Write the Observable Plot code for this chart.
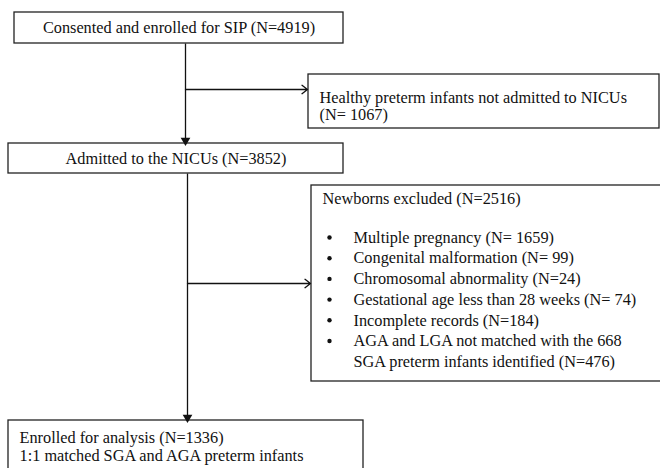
<!DOCTYPE html>
<html>
<head>
<meta charset="utf-8">
<script src="https://cdn.jsdelivr.net/npm/d3@7"></script>
<script src="https://cdn.jsdelivr.net/npm/@observablehq/plot@0.6"></script>
<style>
  html, body { margin: 0; padding: 0; background: #fff; }
  #chart svg { display: block; }
</style>
</head>
<body>
<div id="chart"></div>
<script>
// ---- content (data) ----
const stepLabels = [
  "Consented and enrolled for SIP (N=4919)",
  "Admitted to the NICUs (N=3852)"
];
const healthyLines = ["Healthy preterm infants not admitted to NICUs", "(N= 1067)"];
const excludedTitle = "Newborns excluded (N=2516)";
const excludedItems = [
  "Multiple pregnancy (N= 1659)",
  "Congenital malformation (N= 99)",
  "Chromosomal abnormality (N=24)",
  "Gestational age less than 28 weeks (N= 74)",
  "Incomplete records (N=184)",
  "AGA and LGA not matched with the 668",
  "SGA preterm infants identified (N=476)"
];
const itemHasBullet = [true, true, true, true, true, true, false];
const finalLines = ["Enrolled for analysis (N=1336)", "1:1 matched SGA and AGA preterm infants"];

// ---- layout (positions in page pixel units) ----
const boxes = [
  {x1: 14, x2: 343, y1: 12, y2: 43},
  {x1: 8, x2: 343, y1: 143, y2: 173},
  {x1: 308, x2: 659, y1: 74, y2: 128},
  {x1: 311, x2: 672, y1: 185, y2: 381},
  {x1: 8, x2: 363, y1: 420, y2: 480}
];
const vLines = [
  {x: 185, y1: 43, y2: 139},
  {x: 187, y1: 173, y2: 416}
];
const downHeads = [{x: 185, y: 140}, {x: 187, y: 417}];
const hArrows = [
  {x1: 185, x2: 307, y: 89},
  {x1: 187, x2: 310, y: 283}
];

const W = 660, H = 468;
const font = "'Liberation Serif', 'Times New Roman', serif";
const fs = 16.3;

const stepText = stepLabels.map((t, i) => ({
  t, x: (boxes[i].x1 + boxes[i].x2) / 2, y: (boxes[i].y1 + boxes[i].y2) / 2
}));
const leftText = [
  ...healthyLines.map((t, i) => ({t, x: 319, y: 97 + i * 17.5})),
  {t: excludedTitle, x: 322, y: 198},
  ...excludedItems.map((t, i) => ({t, x: 353, y: 237 + i * 20.7})),
  ...finalLines.map((t, i) => ({t, x: 19, y: 437 + i * 18.5}))
];
const bullets = excludedItems
  .map((t, i) => ({x: 329, y: 237 + i * 20.7, b: itemHasBullet[i]}))
  .filter(d => d.b);

const chart = Plot.plot({
  width: W,
  height: H,
  margin: 0,
  x: {domain: [0, W], axis: null},
  y: {domain: [0, H], reverse: true, axis: null},
  style: {fontFamily: font, background: "#fff"},
  marks: [
    Plot.rect(boxes, {x1: "x1", x2: "x2", y1: "y1", y2: "y2", fill: "none", stroke: "#222", strokeWidth: 1.3}),
    Plot.link(vLines, {x1: "x", x2: "x", y1: "y1", y2: "y2", stroke: "#111", strokeWidth: 1.3}),
    Plot.dot(downHeads, {x: "x", y: "y", symbol: "triangle", fill: "#111", stroke: "none", r: 3.6, rotate: 180}),
    Plot.arrow(hArrows, {x1: "x1", x2: "x2", y1: "y", y2: "y", stroke: "#111", strokeWidth: 1.3, headLength: 8, headAngle: 75}),
    Plot.dot(bullets, {x: "x", y: "y", r: 2.2, fill: "#111"}),
    Plot.text(stepText, {x: "x", y: "y", text: "t", fontSize: fs, fill: "#111", textAnchor: "middle"}),
    Plot.text(leftText, {x: "x", y: "y", text: "t", fontSize: fs, fill: "#111", textAnchor: "start"})
  ]
});
document.getElementById("chart").appendChild(chart);
</script>
</body>
</html>
